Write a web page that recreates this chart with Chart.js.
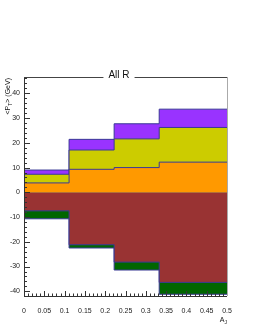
<!DOCTYPE html>
<html>
<head>
<meta charset="utf-8">
<script src="https://cdn.jsdelivr.net/npm/chart.js@4.4.1/dist/chart.umd.min.js"></script>
<style>
  html, body { margin: 0; padding: 0; background: #fff; }
  #wrap { width: 258px; height: 333px; position: relative; }
</style>
</head>
<body>
<div id="wrap"><canvas id="c" width="258" height="333"></canvas></div>
<script>
// ---- data ----
const binEdges = [0, 0.111, 0.222, 0.333, 0.5];
const orange = [3.8, 9.3, 10.0, 12.2];   // bottom positive component
const yellow = [3.5, 7.8, 11.6, 14.0];   // stacked on orange
const purple = [1.7, 4.3, 6.1, 7.4];     // stacked on yellow
const brown  = [-7.5, -21.2, -28.2, -36.4]; // first negative component
const green  = [-3.2, -1.3, -3.2, -4.8];    // stacked below brown
const xTickLabels = ['0','0.05','0.1','0.15','0.2','0.25','0.3','0.35','0.4','0.45','0.5'];
const yTickLabels = ['-40','-30','-20','-10','0','10','20','30','40'];
const titleText = 'All R';

// cumulative stacks
function addArr(a, b) { return a.map((v, i) => v + b[i]); }
const cumOrange = orange.slice();
const cumYellow = addArr(cumOrange, yellow);
const cumPurple = addArr(cumYellow, purple);
const cumBrown = brown.slice();
const cumGreen = addArr(cumBrown, green);

function steps(vals) {
  const pts = vals.map((v, i) => ({ x: binEdges[i], y: v }));
  pts.push({ x: binEdges[binEdges.length - 1], y: vals[vals.length - 1] });
  return pts;
}

const LINE = '#3a3a96';
function ds(vals, color) {
  return {
    data: steps(vals),
    stepped: 'before',
    fill: 'origin',
    backgroundColor: color,
    borderColor: LINE,
    borderWidth: 1,
    pointRadius: 0,
    tension: 0
  };
}

const FONT = '"Liberation Sans", Arial, Helvetica, sans-serif';

const decor = {
  id: 'decor',
  afterDatasetsDraw(chart) {
    const ctx = chart.ctx;
    const a = chart.chartArea;
    const xs = chart.scales.x, ys = chart.scales.y;
    ctx.save();
    ctx.strokeStyle = '#333';
    ctx.lineWidth = 1;
    // y ticks (inside)
    ctx.beginPath();
    for (let v = -40; v <= ys.max; v += 2) {
      const y = Math.round(ys.getPixelForValue(v)) + 0.5;
      const len = (v % 10 === 0) ? 6 : 3;
      ctx.moveTo(a.left, y); ctx.lineTo(a.left + len, y);
    }
    // x ticks (inside)
    for (let i = 0; i <= 50; i++) {
      const x = Math.round(xs.getPixelForValue(i / 100)) + 0.5;
      const len = (i % 5 === 0) ? 5 : 2.5;
      ctx.moveTo(x, a.bottom); ctx.lineTo(x, a.bottom - len);
    }
    ctx.stroke();
    // frame: left & bottom
    ctx.beginPath();
    ctx.moveTo(a.left + 0.5, a.top); ctx.lineTo(a.left + 0.5, a.bottom);
    ctx.moveTo(a.left, a.bottom + 0.5); ctx.lineTo(a.right, a.bottom + 0.5);
    ctx.stroke();
    // top line
    ctx.strokeStyle = '#444';
    ctx.beginPath();
    ctx.moveTo(a.left, a.top + 0.5); ctx.lineTo(a.right, a.top + 0.5);
    ctx.stroke();
    // right line (grey)
    ctx.strokeStyle = '#aaa';
    ctx.beginPath();
    ctx.moveTo(a.right + 0.5, a.top); ctx.lineTo(a.right + 0.5, a.bottom);
    ctx.stroke();
    // title
    ctx.font = '10px ' + FONT;
    const tw = ctx.measureText(titleText).width;
    const tx = 119;
    ctx.fillStyle = '#fff';
    ctx.fillRect(tx - tw / 2 - 5, a.top - 8, tw + 10, 14);
    ctx.fillStyle = '#111';
    ctx.textAlign = 'center';
    ctx.textBaseline = 'middle';
    ctx.fillText(titleText, tx, a.top - 2);
    // y axis title  <P_T> (GeV), rotated, ending at top of axis
    ctx.save();
    ctx.translate(10, a.top + 1);
    ctx.rotate(-Math.PI / 2);
    ctx.textAlign = 'left';
    ctx.textBaseline = 'alphabetic';
    const f1 = '7px ' + FONT, f2 = '5px ' + FONT;
    ctx.font = f1; const w1 = ctx.measureText('<P').width;
    ctx.font = f2; const w2 = ctx.measureText('T').width;
    ctx.font = f1; const w3 = ctx.measureText('> (GeV)').width;
    let px = -(w1 + w2 + w3);
    ctx.fillStyle = '#111';
    ctx.font = f1; ctx.fillText('<P', px, 0); px += w1;
    ctx.font = f2; ctx.fillText('T', px, 2); px += w2;
    ctx.font = f1; ctx.fillText('> (GeV)', px, 0);
    ctx.restore();
    // x axis title A_J, right aligned
    ctx.textBaseline = 'alphabetic';
    ctx.textAlign = 'left';
    ctx.font = f1; const wa = ctx.measureText('A').width;
    ctx.font = f2; const wj = ctx.measureText('J').width;
    let ax = a.right - wa - wj;
    ctx.font = f1; ctx.fillText('A', ax, 322);
    ctx.font = f2; ctx.fillText('J', ax + wa, 324);
    ctx.restore();
  }
};

new Chart(document.getElementById('c'), {
  type: 'line',
  data: {
    datasets: [
      ds(cumOrange, '#ff9900'),
      ds(cumYellow, '#cccc00'),
      ds(cumPurple, '#9933ff'),
      ds(cumBrown, '#993333'),
      ds(cumGreen, '#006600')
    ]
  },
  options: {
    responsive: false,
    animation: false,
    layout: { padding: { top: 77, right: 31, left: 0, bottom: 0 } },
    plugins: { legend: { display: false }, tooltip: { enabled: false }, title: { display: false } },
    scales: {
      x: {
        type: 'linear',
        min: 0, max: 0.5,
        grid: { display: false, drawTicks: false },
        border: { display: false },
        afterBuildTicks: (s) => { s.ticks = xTickLabels.map(t => ({ value: parseFloat(t) })); },
        afterFit: (s) => { s.height = 37; },
        ticks: {
          padding: 11,
          autoSkip: false,
          maxRotation: 0,
          font: { family: FONT, size: 7 },
          color: '#222',
          callback: (v) => { const i = xTickLabels.findIndex(t => Math.abs(parseFloat(t) - v) < 1e-9); return i >= 0 ? xTickLabels[i] : ''; }
        }
      },
      y: {
        type: 'linear',
        min: -41.9, max: 46.6,
        grid: { display: false, drawTicks: false },
        border: { display: false },
        afterBuildTicks: (s) => { s.ticks = yTickLabels.map(t => ({ value: parseFloat(t) })); },
        afterFit: (s) => { s.width = 24; },
        ticks: {
          padding: 4,
          autoSkip: false,
          font: { family: FONT, size: 7 },
          color: '#222',
          callback: (v) => String(v)
        }
      }
    }
  },
  plugins: [decor]
});
</script>
</body>
</html>
